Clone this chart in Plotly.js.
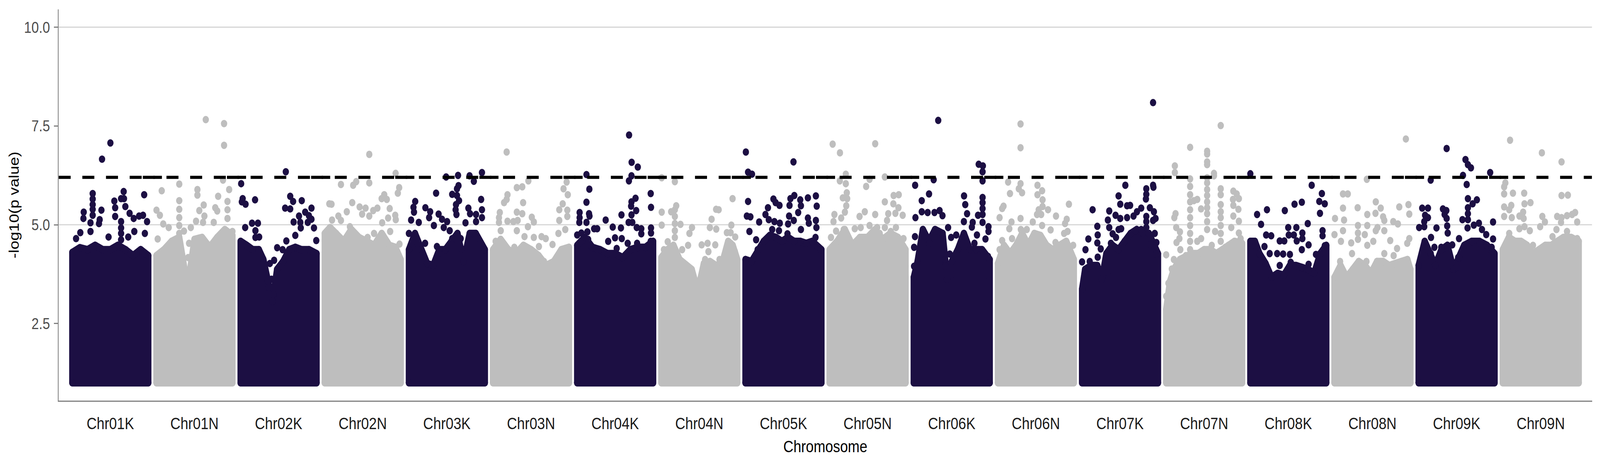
<!DOCTYPE html>
<html>
<head>
<meta charset="utf-8">
<script src="https://cdn.plot.ly/plotly-3.0.1.min.js"></script>
<style>
  html, body { margin: 0; padding: 0; background: #ffffff; overflow: hidden; }
  #chart { width: 4800px; height: 1200px; transform-origin: 0 0; }
  /* round corners of the dense blocks, like overlapping dots */
  .scatterlayer .js-line { stroke-linejoin: round; }
</style>
</head>
<body>
<div id="chart"></div>
<script>
/* ============================================================
   Manhattan plot, -log10(p) by chromosome
   positions are % of chromosome length, values are -log10(p)
   ============================================================ */

const CHROMOSOMES = ['Chr01K','Chr01N','Chr02K','Chr02N','Chr03K','Chr03N',
                     'Chr04K','Chr04N','Chr05K','Chr05N','Chr06K','Chr06N',
                     'Chr07K','Chr07N','Chr08K','Chr08N','Chr09K','Chr09N'];

const THRESHOLD  = 6.2;
const GRID_LINES = [5, 10];
const Y_TICKS    = [2.5, 5, 7.5, 10];
const Y_LABELS   = ['2.5', '5.0', '7.5', '10.0'];

/* top of the solid mass of SNPs (down to p = 0.1) per chromosome */
const chr01K_top = [[0,4.30],[10,4.42],[20,4.37],[30,4.48],[40,4.37],[50,4.37],[60,4.48],[70,4.37],[80,4.22],[90,4.37],[100,4.22]];
const chr01N_top = [[0,4.22],[10,4.37],[20,4.58],[30,4.68],[37,3.87],[44,3.82],[50,4.63],[60,4.68],[70,4.43],[80,4.68],[90,4.88],[100,4.73]];
const chr02K_top = [[0,4.58],[8,4.48],[16,4.37],[24,4.37],[30,4.12],[36,3.57],[42,3.06],[48,3.87],[56,4.07],[64,4.37],[72,4.43],[80,4.37],[90,4.37],[100,4.27]];
const chr02N_top = [[0,4.78],[7,4.93],[15,4.78],[25,4.58],[35,4.88],[45,4.68],[55,4.58],[65,4.48],[75,4.78],[85,4.48],[93,4.43],[100,4.12]];
const chr03K_top = [[0,4.37],[8,4.78],[16,4.37],[24,4.02],[32,3.97],[40,4.37],[48,4.37],[56,4.58],[64,4.78],[72,4.07],[80,4.78],[88,4.78],[100,4.37]];
const chr03N_top = [[0,4.37],[10,4.63],[20,4.37],[30,4.27],[40,4.48],[50,4.37],[60,4.22],[70,3.97],[80,4.07],[90,4.37],[100,4.43]];
const chr04K_top = [[0,4.48],[10,4.68],[20,4.43],[30,4.37],[40,4.27],[50,4.27],[60,4.17],[70,4.37],[80,4.43],[90,4.43],[100,4.58]];
const chr04N_top = [[0,4.17],[8,4.37],[16,4.48],[24,4.12],[32,3.97],[40,3.87],[48,3.32],[56,4.02],[64,4.07],[72,3.97],[80,4.02],[88,4.58],[94,4.48],[100,4.12]];
const chr05K_top = [[0,4.12],[8,4.07],[16,4.37],[24,4.58],[32,4.73],[40,4.68],[48,4.58],[56,4.68],[64,4.58],[72,4.58],[80,4.53],[88,4.58],[100,4.37]];
const chr05N_top = [[0,4.37],[10,4.58],[20,4.88],[30,4.48],[40,4.68],[50,4.68],[60,4.88],[70,4.63],[80,4.78],[90,4.68],[100,4.37]];
const chr06K_top = [[0,3.67],[5,4.07],[12,4.88],[20,4.58],[28,4.88],[38,4.78],[44,3.62],[50,4.07],[58,4.37],[66,4.78],[74,4.37],[82,4.37],[90,4.37],[100,4.12]];
const chr06N_top = [[0,4.02],[8,4.48],[16,4.27],[24,4.48],[32,4.78],[40,4.48],[48,4.78],[56,4.73],[64,4.48],[72,4.37],[80,4.48],[90,4.58],[100,4.12]];
const chr07K_top = [[0,3.37],[4,3.87],[12,3.97],[20,3.97],[26,3.62],[32,4.27],[40,4.48],[48,4.37],[56,4.58],[64,4.78],[72,4.88],[80,4.78],[88,4.78],[94,4.48],[100,4.27]];
const chr07N_top = [[0,2.86],[5,3.57],[10,3.87],[18,4.12],[26,4.22],[34,4.27],[42,4.27],[50,4.37],[58,4.37],[66,4.27],[74,4.37],[82,4.48],[90,4.58],[100,4.53]];
const chr08K_top = [[0,4.58],[6,4.58],[12,4.27],[20,4.02],[28,3.67],[36,3.77],[44,3.72],[52,3.97],[60,3.97],[68,3.92],[76,3.87],[84,3.77],[92,4.27],[100,4.48]];
const chr08N_top = [[0,3.67],[8,3.97],[16,3.67],[24,3.87],[32,4.07],[40,3.97],[48,3.77],[56,4.07],[64,4.07],[72,3.97],[80,4.02],[88,4.07],[96,4.12],[100,3.87]];
const chr09K_top = [[0,3.97],[8,4.58],[16,4.27],[22,3.97],[30,4.37],[38,4.48],[46,3.87],[52,4.17],[60,4.48],[70,4.58],[80,4.58],[90,4.48],[100,4.27]];
const chr09N_top = [[0,4.37],[8,4.68],[16,4.58],[24,4.58],[32,4.48],[40,4.27],[48,4.37],[56,4.48],[64,4.48],[72,4.58],[80,4.68],[90,4.68],[100,4.58]];

/* individual SNPs standing above the solid mass: [position %, -log10(p)] */
const chr01K_snps = [[39.1,6.66],[50.1,7.07],[26.8,5.79],[26.8,5.65],[26.8,5.51],[26.8,5.39],[26.8,5.24],[15,5.32],[14.6,5.16],[38.3,5.37],[36,5.13],[23.9,5.05],[67.6,5.84],[68,5.66],[55.3,5.6],[56.4,5.43],[64.2,5.66],[69.8,5.46],[75.4,5.29],[94.6,5.76],[87.9,5.22],[93.1,5.24],[98.4,5.08],[80.8,5.16],[64.2,5.08],[56.4,5.21],[10.5,4.8],[47.7,4.69],[73.6,4.69],[81.6,4.83],[95.5,4.78],[64.2,4.78],[23.9,4.83],[4.9,4.65],[35.1,5.03],[64.2,4.92],[64.2,4.62]];
const chr01N_snps = [[64.9,7.66],[89,7.56],[89,7.01],[87.6,6.13],[30,6.03],[6.9,5.86],[53.9,5.89],[53.9,5.75],[95.7,5.89],[81.2,5.72],[30,5.61],[30,5.39],[30,5.18],[30,4.98],[30,4.78],[0,5.37],[4.5,5.24],[62.2,5.5],[56.4,5.36],[63.1,5.22],[77.4,5.43],[80,5.35],[93.5,5.59],[93.5,5.38],[93.5,5.16],[52.1,5.09],[61.3,5.06],[75.4,5.06],[45.2,4.93],[16.1,4.93],[8.9,5.02],[1.6,4.64],[36.2,4.84],[42.9,4.53],[41.8,4.17],[100,4.83]];
const chr02K_snps = [[59.5,6.34],[0.7,6.04],[2.7,5.66],[1.6,5.58],[6.5,5.52],[19,5.63],[15,5.04],[22.8,5.04],[19.5,4.85],[6,4.93],[65.3,5.72],[69.1,5.59],[58.6,5.42],[65.3,5.4],[80.5,5.61],[93.3,5.42],[85,5.32],[89.9,5.23],[76.9,5.22],[69.8,5.07],[78.6,5.06],[88.4,5.06],[93.3,5.14],[96.6,4.92],[99.6,4.6],[79.2,4.92],[72,4.73],[60.2,4.59],[48.1,4.42],[55.3,4.37],[44.1,4.1],[38.5,4.02],[24.4,4.69],[19.5,4.68],[43,3.24],[37.4,3.42],[40.7,3.62]];
const chr02N_snps = [[58.6,6.78],[93.3,6.3],[58.6,6.06],[21.3,6.02],[37.4,6],[41.4,6.09],[98,5.94],[96.2,5.8],[78.3,5.76],[74.9,5.66],[81.7,5.64],[8.9,5.52],[36.2,5.56],[45.9,5.45],[53.7,5.42],[63.8,5.36],[69.3,5.42],[85.5,5.41],[58.6,5.22],[49.2,5.27],[29,5.33],[17.9,5.22],[21.3,5.11],[9.6,5.12],[92.8,5.24],[93.5,5.13],[83.4,5.17],[75.6,5.05],[33.1,4.95],[64.9,4.78],[86.1,4.83],[56.4,4.68],[98.4,4.51],[19,4.63],[6,5.53]];
const chr03K_snps = [[64.7,6.25],[49,6.21],[79.9,6.24],[96.2,6.32],[85.5,6.1],[65.3,5.99],[63.3,5.91],[35.8,5.8],[57,5.77],[63.3,5.74],[95.1,5.64],[66,5.61],[62,5.51],[8.3,5.59],[6,5.44],[6.7,5.32],[2.9,5.12],[21.7,5.43],[28,5.33],[26.6,5.18],[39.1,5.27],[43.6,5.14],[50.3,5.08],[61.5,5.38],[62.6,5.26],[78.3,5.42],[80.5,5.28],[88.4,5.26],[96.2,5.38],[74.5,5.05],[88.4,5.08],[96.2,5.18],[32.9,4.98],[45.9,4.93],[53.7,4.85],[13,5.06],[0,4.78],[11.2,4.53],[21.3,4.53],[36.9,4.45],[57,4.65],[68.2,4.65],[88.4,4.65],[99.6,4.37],[39.1,4.28],[69.4,4.39],[99.6,3.92]];
const chr03N_snps = [[17.9,6.84],[46.5,6.11],[38.5,5.96],[31.3,5.94],[96.9,6.08],[92.8,5.91],[98.4,5.76],[19,5.76],[14.5,5.56],[17.9,5.64],[39.6,5.56],[31.3,5.32],[38.5,5.28],[8.9,5.31],[7.8,5.18],[7.8,5.06],[51,5.19],[53.7,5.07],[87.2,5.38],[97.8,5.37],[97.8,5.21],[91.7,5.53],[87.2,5.11],[19,5.09],[26.8,5.08],[32.4,5.11],[45.9,4.95],[31.3,4.85],[41.4,4.7],[53.7,4.68],[63.8,4.7],[69.4,4.65],[60.4,4.45],[78.3,4.5],[86.1,4.78],[95.1,4.88],[10.1,4.85],[3.4,4.58],[28,4.43],[67.1,4.07]];
const chr04K_snps = [[12.2,6.27],[16,5.9],[12.2,5.57],[15.6,5.28],[16.2,5.22],[3.2,5.31],[3.2,5.18],[2.8,5.06],[12.2,5.06],[13.4,4.82],[0,4.74],[5.5,4.79],[22.3,4.9],[14.4,4.63],[68.3,7.27],[71.7,6.58],[79.8,6.46],[71.5,6.24],[68.1,6.11],[96.8,5.79],[97.2,5.44],[76.8,5.67],[71.5,5.58],[71,5.47],[77.7,5.36],[71.5,5.25],[58.3,5.25],[37.5,5.12],[67.7,5.06],[72.6,5.06],[46.8,4.94],[57.6,4.92],[78.4,4.93],[84.4,4.9],[97.2,4.92],[97.2,4.79],[26.3,4.9],[49.8,4.67],[58.7,4.65],[84.4,4.77],[40.8,4.58],[96.8,4.58],[52,4.4],[66.5,4.53],[78.9,4.53]];
const chr04N_snps = [[0.5,6.19],[17.8,6.09],[93.8,5.66],[19.6,5.48],[17.8,5.38],[12.9,5.33],[0.5,5.32],[0.5,4.99],[17.8,5.21],[17.8,5.03],[25.2,5.01],[17.8,4.85],[17.8,4.68],[8.4,4.57],[3.4,4.37],[72.1,5.39],[75.5,5.38],[66.2,5.14],[63.9,4.93],[72.3,4.89],[40.4,4.93],[37,4.78],[92.2,4.99],[86.3,4.8],[91.2,4.8],[97.3,4.69],[91.2,4.53],[35.2,4.48],[53.1,4.49],[60.9,4.53],[71,4.49],[27.4,4.37],[62,4.32],[76.6,4.12],[96.8,4.32],[57.6,4.12],[47.5,3.57],[48.7,3.37]];
const chr05K_snps = [[0.5,6.84],[63.2,6.59],[3.4,6.33],[8.6,6.28],[3.4,5.59],[1.8,5.22],[6.5,5.2],[5.2,4.83],[36.8,5.65],[39.7,5.56],[44.8,5.49],[29.6,5.43],[26.3,5.26],[59.2,5.66],[64.3,5.74],[72.1,5.63],[82.2,5.68],[92.7,5.73],[93.8,5.47],[69.4,5.31],[73,5.48],[58,5.49],[57.4,5.22],[63.6,5.11],[82.2,5.17],[83.4,5.04],[92.7,5.11],[93.4,4.93],[73,4.88],[18,5.07],[30.7,5.13],[38.1,5.08],[45.2,5.04],[35.2,4.88],[44.1,4.85],[56.1,5.02],[55.3,4.77],[14,4.62],[92.2,4.68],[99,4.37]];
const chr05N_snps = [[4,7.04],[13.6,6.82],[21.3,6.28],[13.4,6.11],[21.3,6.04],[22.6,5.81],[23.1,5.66],[17.4,5.68],[21.9,5.48],[20.1,5.32],[15.2,5.17],[6.3,5.26],[5.1,5.08],[39.4,5.21],[33.1,4.9],[40.9,4.93],[8.5,4.84],[1.8,4.68],[18.6,4.88],[28.6,4.37],[39.8,4.68],[60,7.05],[72.7,6.21],[52.6,6.15],[48.1,5.97],[84.3,5.74],[91,5.76],[72.7,5.58],[83.9,5.53],[90.6,5.43],[46.3,5.33],[60,5.26],[77.2,5.28],[86.6,5.29],[96.2,5.24],[75.6,5.11],[52.6,4.98],[62.6,4.93],[72.7,4.93],[87.3,4.93],[65.9,4.78],[80.5,4.83],[97.3,4.65]];
const chr06K_snps = [[32.2,7.64],[85.5,6.53],[91,6.49],[90.6,6.34],[26.2,6.14],[90.6,6.11],[1.8,6],[20.1,5.78],[10.5,5.61],[66.2,5.73],[90.6,5.69],[90.6,5.56],[67.8,5.51],[70.2,5.28],[90.6,5.41],[90.6,5.26],[84.6,5.24],[10.5,5.33],[18.3,5.31],[2.2,5.18],[27.3,5.31],[34,5.36],[37.8,5.23],[66,5.08],[77.6,5.06],[76.5,4.94],[90.6,5.06],[98.4,4.95],[98.4,4.83],[45.2,4.93],[1.6,4.7],[94.4,4.64],[83.2,4.74],[49.2,4.68],[55.9,4.74],[63.1,4.65],[79.9,4.53],[20.6,4.53],[0.4,4.43],[47.4,4.26],[41.2,4.12],[41.8,3.95],[49.7,3.74],[97.8,4.2],[97.8,3.72],[0.4,3.95]];
const chr06N_snps = [[29.8,7.55],[29.8,6.95],[13.4,6.08],[29.8,6.04],[27.5,5.91],[31.8,5.81],[15.9,5.79],[52.1,6],[52.1,5.76],[58.2,5.86],[58.8,5.63],[53.7,5.38],[58.8,5.46],[66,5.38],[57,5.26],[51.5,5.26],[93.5,5.52],[76.5,5.22],[90.6,5.14],[88.4,5.03],[7.4,5.47],[5.6,5.41],[2.2,5.18],[29.8,5.16],[17.9,5.07],[15,4.9],[45.9,5.07],[58.2,4.98],[69.4,4.87],[38,4.88],[30.2,4.88],[5.6,4.6],[18.6,4.65],[45.9,4.68],[75.8,4.55],[91.7,4.83],[99.1,4.48],[2.2,4.37],[87.2,4.78],[42.5,3.92]];
const chr07K_snps = [[13.9,5.38],[20.1,4.96],[20.6,4.74],[20.1,4.54],[24.6,4.39],[20.6,4.18],[8.3,4.64],[4.5,4.37],[0,4.06],[10.1,4.07],[57,6],[48.1,5.73],[50.3,5.52],[35.8,5.35],[34,5.12],[35.8,4.93],[44.1,5.24],[50.3,5.16],[48.1,4.88],[51.5,4.9],[40.3,4.77],[44.7,4.68],[38,4.53],[59.3,5.48],[59.3,5.18],[33.6,3.8],[93.5,8.09],[93.5,6],[94,5.95],[84.6,5.91],[84.6,5.77],[84.1,5.65],[63.3,5.49],[77.9,5.42],[72.3,5.33],[89.3,5.43],[94.6,5.33],[67.8,5.22],[84.6,5.21],[84.6,5.08],[96.8,5.16],[93.5,5.11],[77.9,4.88],[70,4.85],[95.7,4.78],[84.6,4.93],[97.9,4.55],[90.1,4.5],[97.9,4.25]];
const chr07N_snps = [[71.8,7.51],[31.5,6.96],[53.9,6.86],[53.9,6.79],[53.9,6.59],[53.9,6.52],[11.4,6.49],[11.4,6.32],[62.9,6.3],[62.9,6.24],[31.5,6.16],[31.5,5.97],[53.9,6.19],[53.9,6.06],[53.9,5.89],[53.9,5.74],[53.9,5.58],[53.9,5.43],[53.9,5.28],[53.9,5.08],[53.9,4.88],[71.8,5.91],[71.8,5.76],[71.8,5.51],[71.8,5.33],[71.8,5.18],[71.8,4.98],[71.8,4.78],[71.8,4.58],[31.5,5.76],[31.5,5.58],[31.5,5.38],[31.5,5.18],[31.5,4.98],[31.5,4.78],[31.5,4.58],[31.5,4.37],[40.9,5.64],[36.5,5.61],[45.9,5.4],[12.3,5.28],[10.7,5.18],[13.2,4.93],[18.1,4.82],[17.4,4.65],[13.6,4.55],[18.6,4.37],[88.4,5.85],[92.8,5.78],[95.7,5.66],[87.9,5.64],[88.4,5.49],[95.1,5.39],[88.4,5.22],[95.7,5.09],[85.7,4.93],[95.7,4.79],[98,4.65],[64.4,4.83],[40.9,4.58],[46,4.65],[60,4.48],[77.9,4.43],[0,4.24],[10.1,4.12],[7.4,3.88],[2.9,3.52],[0,3.19]];
const chr08K_snps = [[0,6.29],[80.8,6],[94.2,5.79],[90.8,5.59],[98,5.53],[91.7,5.29],[67.8,5.57],[58.2,5.52],[45.4,5.36],[21.9,5.38],[8.9,5.26],[75.6,5.03],[49.9,4.93],[60.6,4.93],[14.1,5.01],[95.1,4.85],[95.1,4.72],[20.8,4.74],[27.5,4.72],[50.6,4.74],[57.3,4.74],[68.5,4.79],[68.5,4.65],[38.7,4.59],[44.7,4.59],[61.1,4.59],[76.7,4.49],[67.8,4.37],[18.6,4.45],[25.5,4.27],[35.3,4.27],[43.2,4.26],[52.1,4.25],[98,4.47],[86.4,4.25],[53.2,4.05],[76.7,4],[38.7,3.97]];
const chr08N_snps = [[94,7.17],[42.6,6.15],[11.2,5.78],[17.5,5.78],[11.2,5.42],[12.6,5.12],[30.5,5.43],[54.4,5.58],[60.9,5.42],[54,5.29],[43.2,5.26],[64,5.2],[65.6,5.11],[85.3,5.45],[97.4,5.51],[98.5,5.27],[77.4,5.08],[83.5,5.02],[30.9,4.98],[43.2,4.98],[56.6,4.93],[0.7,5.16],[11.2,4.85],[30.9,4.79],[39.9,4.75],[54.4,4.85],[65.6,4.85],[73.4,4.6],[82.4,4.4],[98.5,4.65],[95.8,4.53],[0,4.75],[8.5,4.58],[22,4.54],[30.9,4.63],[43.2,4.48],[51.1,4.58],[65.6,4.27],[77.9,4.22],[7.4,4.07],[23.1,4.27],[42.1,4.07]];
const chr09K_snps = [[36.9,6.93],[61.7,6.65],[64.9,6.52],[68.9,6.44],[58.4,6.25],[94.2,6.32],[15.9,6.13],[63.3,6.02],[64.9,5.66],[71.1,5.53],[76.7,5.63],[64.9,5.43],[64.9,5.28],[57.7,5.13],[64.9,5.13],[4.7,5.42],[12.3,5.42],[8.5,5.24],[12.3,5.18],[7.4,5.08],[32,5.4],[36.5,5.36],[34.2,5.26],[36.9,5.16],[98,5.07],[79.4,5.04],[72.7,4.99],[0.7,4.93],[7.4,4.95],[23.5,4.92],[37.6,4.97],[38.3,4.79],[53.2,4.65],[64.4,4.92],[83.4,4.88],[89,4.75],[98,4.64],[44.3,4.49],[29.8,4.43],[16.3,4.68],[20.8,4.43],[96.2,4.43],[49.9,3.92],[53.2,4.17],[81.2,4.53]];
const chr09N_snps = [[9.6,7.14],[51.5,6.82],[77.4,6.59],[3.4,6.06],[1.8,5.96],[1.8,5.78],[13.4,5.8],[28.2,5.8],[77.4,5.74],[85.7,5.75],[36.5,5.56],[28.6,5.53],[1.8,5.45],[11.2,5.49],[8.5,5.38],[26.8,5.32],[21.9,5.22],[27.5,5.16],[1.8,5.21],[11.9,5.18],[52.1,5.21],[55.5,5.07],[71.6,5.21],[77.4,5.18],[84.6,5.23],[95.3,5.31],[91.3,5.26],[98,5.07],[76.7,5.06],[28.6,4.95],[21.9,4.9],[35.6,4.85],[49.2,4.95],[70.7,4.88],[84.6,4.83],[8.5,4.78],[65.5,4.7],[98,4.65],[39.8,4.48]];

const TOPS = [chr01K_top, chr01N_top, chr02K_top, chr02N_top, chr03K_top, chr03N_top,
              chr04K_top, chr04N_top, chr05K_top, chr05N_top, chr06K_top, chr06N_top,
              chr07K_top, chr07N_top, chr08K_top, chr08N_top, chr09K_top, chr09N_top];
const SNPS = [chr01K_snps, chr01N_snps, chr02K_snps, chr02N_snps, chr03K_snps, chr03N_snps,
              chr04K_snps, chr04N_snps, chr05K_snps, chr05N_snps, chr06K_snps, chr06N_snps,
              chr07K_snps, chr07N_snps, chr08K_snps, chr08N_snps, chr09K_snps, chr09N_snps];

const COLORS  = ['#1c0f43', '#bebebe'];   // alternating chromosome colours
const P_FLOOR = 1;                        // smallest -log10(p) kept
const CHR_LEN  = 100;                     // position axis of one chromosome
const CHR_STEP = 110.8;                   // chromosome + gap on the cumulative axis
const X_PAD_L  = 18, X_PAD_R = 17.5;
const DOT = 19;                           // dot diameter, px

const FONT = 'Liberation Sans, Arial, Helvetica, sans-serif';

/* ── traces ── */
const traces = [];

CHROMOSOMES.forEach((chr, k) => {
    const off   = k * CHR_STEP;
    const color = COLORS[k % 2];
    const top   = TOPS[k];

    // solid block: from the p floor up to the top of the dense mass
    const bx = [off + top[0][0]].concat(top.map(p => off + p[0]), [off + top[top.length - 1][0], off + top[0][0]]);
    const by = [P_FLOOR].concat(top.map(p => p[1]), [P_FLOOR, P_FLOOR]);
    traces.push({
        x: bx, y: by, type: 'scatter', mode: 'lines+markers',
        fill: 'toself', fillcolor: color,
        line: { color: color, width: DOT },
        marker: { color: color, size: DOT },
        hoverinfo: 'skip', showlegend: false
    });

    // single SNPs above the block
    const snps = SNPS[k];
    traces.push({
        x: snps.map(p => off + p[0]),
        y: snps.map(p => p[1]),
        type: 'scatter', mode: 'markers',
        marker: { color: color, size: DOT, line: { width: 0 } },
        name: chr, showlegend: false,
        hovertemplate: chr + '<br>%{y:.2f}<extra></extra>'
    });
});

/* ── shapes: grid lines (below) and threshold (above) ── */
const xMin = -X_PAD_L;
const xMax = (CHROMOSOMES.length - 1) * CHR_STEP + CHR_LEN + X_PAD_R;

const shapes = GRID_LINES.map(v => ({
    type: 'line', xref: 'paper', x0: 0, x1: 1, yref: 'y', y0: v, y1: v,
    line: { color: '#d6d6d6', width: 3 }, layer: 'below'
}));

/* threshold drawn as one dashed piece per chromosome, pieces overlap a bit */
CHROMOSOMES.forEach((chr, k) => {
    const x0 = xMin + k * CHR_STEP;
    shapes.push({
        type: 'line', xref: 'x', yref: 'y',
        x0: x0, x1: Math.min(x0 + 1.227 * CHR_STEP, xMax),
        y0: THRESHOLD, y1: THRESHOLD,
        line: { color: '#000000', width: 8, dash: '36px,35px' },
        layer: 'above'
    });
});

const layout = {
    width: 4800, height: 1200,
    paper_bgcolor: '#ffffff', plot_bgcolor: '#ffffff',
    font: { family: FONT, color: '#000000' },
    margin: { l: 176, r: 24, t: 24, b: 175 },
    showlegend: false,
    xaxis: {
        range: [xMin, xMax],
        tickvals: CHROMOSOMES.map((c, k) => k * CHR_STEP + CHR_LEN / 2),
        ticktext: CHROMOSOMES,
        ticks: '',
        tickfont: { size: 42, color: '#1a1a1a', family: FONT },
        ticklabelstandoff: 20,
        showline: true, linecolor: '#808080', linewidth: 3,
        showgrid: false, zeroline: false,
        title: { text: 'Chromosome', font: { size: 42, color: '#000000', family: FONT }, standoff: 22 }
    },
    yaxis: {
        range: [0.55, 10.45],
        tickvals: Y_TICKS,
        ticktext: Y_LABELS,
        ticks: 'outside', ticklen: 11, tickwidth: 3, tickcolor: '#808080',
        tickfont: { size: 40, color: '#4d4d4d', family: FONT },
        ticklabelstandoff: 4,
        showline: true, linecolor: '#808080', linewidth: 3,
        showgrid: false, zeroline: false,
        title: { text: '-log10(p value)', font: { size: 41, color: '#000000', family: FONT }, standoff: 3 }
    },
    shapes: shapes
};

/* the chart is laid out at 4800 x 1200; squeeze it into the actual window if it is smaller */
function fitToWindow() {
    const el = document.getElementById('chart');
    const w = document.documentElement.clientWidth  || window.innerWidth;
    const h = document.documentElement.clientHeight || window.innerHeight;
    let sx = w / 4800, sy = h / 1200;
    if (!(sx > 0.2)) sx = 1;
    if (!(sy > 0.2)) sy = sx;
    if (Math.abs(sx - 1) > 0.002 || Math.abs(sy - 1) > 0.002) {
        el.style.transform = `scale(${sx}, ${sy})`;
    }
}

fitToWindow();
Plotly.newPlot('chart', traces, layout, { staticPlot: true, displayModeBar: false });
</script>
</body>
</html>
